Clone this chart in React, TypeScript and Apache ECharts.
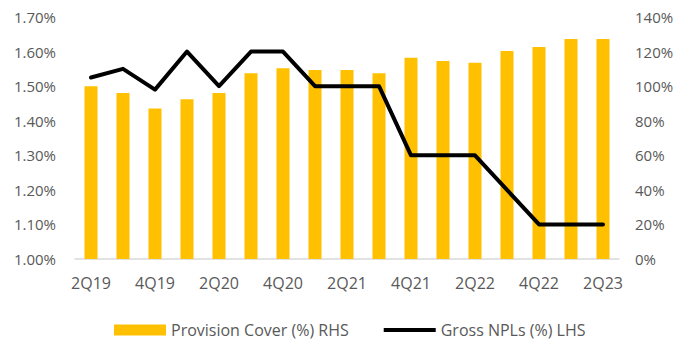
import React, { useEffect, useRef } from "react";
import * as echarts from "echarts";

const categories = ["2Q19","3Q19","4Q19","1Q20","2Q20","3Q20","4Q20","1Q21","2Q21","3Q21","4Q21","1Q22","2Q22","3Q22","4Q22","1Q23","2Q23"];
const provisionCover = [100, 96, 87, 92.4, 96, 107.5, 110.4, 109.4, 109.3, 107.5, 116.4, 114.5, 113.5, 120.4, 122.6, 127.3, 127.3];
const grossNpls = [1.525, 1.55, 1.49, 1.60, 1.50, 1.60, 1.60, 1.50, 1.50, 1.50, 1.30, 1.30, 1.30, 1.20, 1.10, 1.10, 1.10];

const FONT = "Open Sans";
const TXT = "#595959";

export default function App() {
  const ref = useRef<HTMLDivElement>(null);
  useEffect(() => {
    document.body.style.margin = "0";
    if (!ref.current) return;
    const chart = echarts.init(ref.current, undefined, { renderer: "svg" });
    chart.setOption({
      animation: false,
      textStyle: { fontFamily: FONT },
      grid: { left: 75, right: 59, top: 17, bottom: 85, containLabel: false },
      legend: {
        top: 317,
        left: 109,
        itemWidth: 52,
        itemHeight: 11,
        itemGap: 35,
        textStyle: { fontFamily: FONT, fontSize: 16, color: TXT },
        data: [
          { name: "Provision Cover (%) RHS", icon: "rect" },
          {
            name: "Gross NPLs (%) LHS",
            icon: "path://M0,0 L0.01,0 M0,3.5 L52,3.5 L52,7.5 L0,7.5 Z M52,11 L51.99,11",
          },
        ],
      },
      xAxis: {
        type: "category",
        data: categories,
        axisLine: { lineStyle: { color: "#D9D9D9", width: 1.5 } },
        axisTick: { show: false },
        axisLabel: { interval: 1, color: TXT, fontFamily: FONT, fontSize: 16, margin: 16 },
      },
      yAxis: [
        {
          type: "value",
          min: 1.0,
          max: 1.7,
          interval: 0.1,
          position: "left",
          splitLine: { show: false },
          axisLine: { show: false },
          axisTick: { show: false },
          axisLabel: {
            color: TXT,
            fontFamily: FONT,
            fontSize: 15,
            margin: 19,
            formatter: (v: number) => v.toFixed(2) + "%",
          },
        },
        {
          type: "value",
          min: 0,
          max: 140,
          interval: 20,
          position: "right",
          splitLine: { show: false },
          axisLine: { show: false },
          axisTick: { show: false },
          axisLabel: {
            color: TXT,
            fontFamily: FONT,
            fontSize: 15,
            margin: 16,
            formatter: (v: number) => Math.round(v) + "%",
          },
        },
      ],
      series: [
        {
          name: "Provision Cover (%) RHS",
          type: "bar",
          yAxisIndex: 1,
          data: provisionCover,
          barWidth: 13,
          itemStyle: { color: "#FFC000" },
        },
        {
          name: "Gross NPLs (%) LHS",
          type: "line",
          yAxisIndex: 0,
          data: grossNpls,
          symbol: "none",
          lineStyle: { color: "#000000", width: 4, cap: "round", join: "round" },
          itemStyle: { color: "#000000" },
        },
      ],
    });
    return () => chart.dispose();
  }, []);
  return <div ref={ref} style={{ width: 678, height: 344 }} />;
}
